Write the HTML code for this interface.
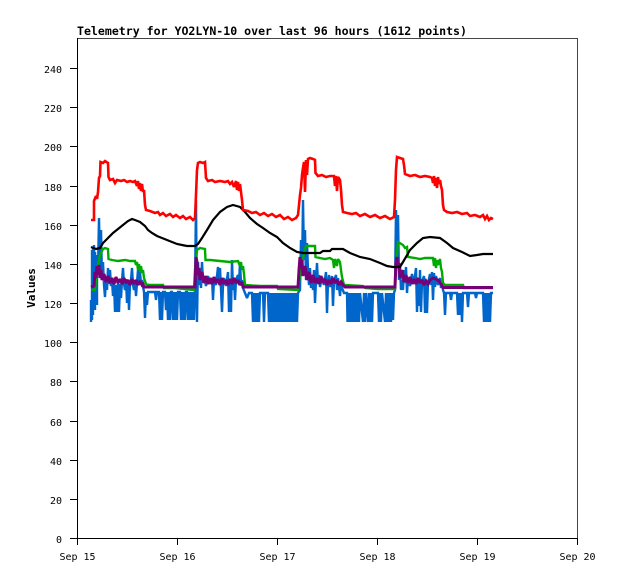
<!DOCTYPE html>
<html><head><meta charset="utf-8"><style>
html,body{margin:0;padding:0;background:#fff;}
svg{display:block;}
text{font-family:"DejaVu Sans Mono","Liberation Mono",monospace;fill:#000;}
</style></head><body>
<svg width="618" height="579" viewBox="0 0 618 579" xmlns="http://www.w3.org/2000/svg">
<rect width="618" height="579" fill="#fff"/>
<text x="77" y="35" font-size="11.5" font-weight="bold" textLength="390" lengthAdjust="spacingAndGlyphs">Telemetry for YO2LYN-10 over last 96 hours (1612 points)</text>
<g shape-rendering="crispEdges" stroke-width="1" fill="none">
<line x1="77" y1="38.5" x2="578" y2="38.5" stroke="#444"/>
<line x1="577.5" y1="38" x2="577.5" y2="539" stroke="#444"/>
<line x1="77.5" y1="38" x2="77.5" y2="539" stroke="#000"/>
<line x1="70" y1="538.5" x2="578" y2="538.5" stroke="#000"/>
<g stroke="#000">
<line x1="70" y1="499.5" x2="77" y2="499.5"/>
<line x1="70" y1="460.5" x2="77" y2="460.5"/>
<line x1="70" y1="421.5" x2="77" y2="421.5"/>
<line x1="70" y1="381.5" x2="77" y2="381.5"/>
<line x1="70" y1="342.5" x2="77" y2="342.5"/>
<line x1="70" y1="303.5" x2="77" y2="303.5"/>
<line x1="70" y1="264.5" x2="77" y2="264.5"/>
<line x1="70" y1="225.5" x2="77" y2="225.5"/>
<line x1="70" y1="186.5" x2="77" y2="186.5"/>
<line x1="70" y1="146.5" x2="77" y2="146.5"/>
<line x1="70" y1="107.5" x2="77" y2="107.5"/>
<line x1="70" y1="68.5" x2="77" y2="68.5"/>
<line x1="77.5" y1="538" x2="77.5" y2="545"/>
<line x1="177.5" y1="538" x2="177.5" y2="545"/>
<line x1="277.5" y1="538" x2="277.5" y2="545"/>
<line x1="377.5" y1="538" x2="377.5" y2="545"/>
<line x1="477.5" y1="538" x2="477.5" y2="545"/>
<line x1="577.5" y1="538" x2="577.5" y2="545"/>
</g>
</g>
<g font-size="10" text-anchor="end">
<text x="62" y="543">0</text>
<text x="62" y="504">20</text>
<text x="62" y="465">40</text>
<text x="62" y="426">60</text>
<text x="62" y="386">80</text>
<text x="62" y="347">100</text>
<text x="62" y="308">120</text>
<text x="62" y="269">140</text>
<text x="62" y="230">160</text>
<text x="62" y="191">180</text>
<text x="62" y="151">200</text>
<text x="62" y="112">220</text>
<text x="62" y="73">240</text>
</g>
<g font-size="10" text-anchor="middle">
<text x="77.5" y="560">Sep 15</text>
<text x="177.5" y="560">Sep 16</text>
<text x="277.5" y="560">Sep 17</text>
<text x="377.5" y="560">Sep 18</text>
<text x="477.5" y="560">Sep 19</text>
<text x="577.5" y="560">Sep 20</text>
</g>
<text transform="translate(35,288) rotate(-90)" x="0" y="0" font-size="11" font-weight="bold" text-anchor="middle">Values</text>

<g fill="none" stroke-linejoin="miter" stroke-miterlimit="2">
<!-- blue -->
<path stroke="#0066cc" stroke-width="2.4" d="M91,322 L91,300 L92,320 L92,250 L93,315 L93,248 L94,300 L94,245 L95,310 L95,252 L96,290 L96,255 L97,305 L97,260 L98,270 L99,218 L100,275 L101,230 L102,280 L103,262 L104,285 L105,297 L106,278 L107,290 L108,268 L109,284 L110,270 L111,286 L112,280 L113,296 L114,282 L115,312 L116,285 L117,312 L118,280 L119,312 L120,284 L121,298 L122,280 L123,268 L124,284 L125,290 L126,279 L127,303 L128,282 L129,310 L130,284 L131,280 L132,268 L133,285 L134,290 L135,280 L136,296 L137,283 L138,270 L139,285 L140,272 L141,284 L142,280 L143,286 L144,292 L145,318 L146,292 L147,305 L148,292 L155,292 L156,300 L157,292 L159,292 L160,320 L161,292 L162,320 L163,292 L165,292 L166,310 L167,292 L168,320 L169,292 L170,320 L171,292 L172,292 L173,320 L174,292 L175,320 L176,292 L177,320 L178,292 L180,292 L181,320 L182,292 L183,320 L184,292 L185,320 L186,292 L187,292 L188,320 L189,292 L190,320 L191,292 L192,320 L193,292 L194,320 L195,292 L196,200 L197,322 L198,262 L199,285 L200,270 L201,288 L202,262 L203,282 L204,276 L206,286 L208,276 L210,284 L212,278 L213,300 L214,280 L216,285 L218,267 L219,283 L220,268 L221,290 L222,312 L223,285 L224,278 L226,286 L228,272 L229,312 L230,282 L231,312 L232,260 L233,290 L234,278 L235,300 L236,280 L238,275 L239,285 L240,262 L241,284 L242,280 L243,288 L245,293 L247,298 L249,293 L252,293 L253,322 L254,293 L255,322 L256,293 L257,322 L258,293 L259,322 L260,293 L263,293 L264,322 L265,293 L268,293 L269,322 L270,293 L271,322 L272,293 L273,322 L274,293 L275,322 L276,293 L277,322 L278,293 L279,322 L280,293 L281,322 L282,293 L283,322 L284,293 L285,322 L286,293 L287,322 L288,293 L289,322 L290,293 L291,322 L292,293 L293,322 L294,293 L295,322 L296,293 L297,322 L298,293 L300,290 L301,240 L302,275 L303,200 L304,260 L305,230 L306,280 L307,243 L308,270 L309,285 L310,268 L311,288 L312,275 L313,290 L314,270 L315,303 L316,280 L317,263 L318,284 L319,275 L320,287 L322,277 L324,285 L326,272 L327,313 L328,282 L329,275 L330,287 L332,276 L333,306 L334,281 L336,275 L337,290 L338,278 L340,296 L341,283 L342,288 L344,293 L347,293 L347.5,322 L348,293 L349,322 L350,293 L351,322 L352,293 L353,322 L354,293 L355,322 L356,293 L357,322 L358,293 L359,322 L360,293 L363,322 L364,293 L365,322 L366,293 L368,322 L369,293 L370,322 L371,293 L372,322 L373,293 L378,293 L379,322 L380,293 L381,322 L382,293 L385,322 L386,293 L387,322 L388,293 L389,322 L390,293 L391,322 L392,293 L393,320 L394,293 L395,290 L396,210 L397,260 L398,215 L399,280 L400,265 L401,290 L402,280 L403,290 L404,270 L405,283 L406,267 L407,293 L408,278 L410,286 L412,274 L414,284 L416,268 L417,312 L418,280 L419,306 L420,270 L421,312 L422,282 L424,276 L425,313 L426,280 L427,313 L428,283 L430,274 L431,285 L432,272 L433,300 L434,273 L435,287 L436,276 L438,285 L440,278 L441,288 L442,283 L443,290 L444,293 L445,315 L446,293 L450,293 L451,300 L452,293 L457,293 L458,315 L459,293 L460,315 L461,293 L462,322 L463,293 L467,293 L468,307 L469,293 L475,293 L476,298 L477,293 L483,293 L484,322 L485,293 L486,322 L487,293 L488,322 L489,293 L490,322 L491,293 L493,293"/>
<!-- green -->
<path stroke="#00aa00" stroke-width="2.4" d="M91,290 L95,290 L97,270 L100,255 L103,249 L105,248 L108,249 L108.5,259 L112,260 L118,261 L125,260 L130,261 L135,261 L136,265 L137,262 L138,270 L139,264 L140,272 L141,266 L142,273 L143,270 L144,278 L146,284 L150,285 L163,285 L164,288 L175,288 L185,289 L194,290 L195,270 L197,250 L200,248 L205,249 L205.5,260 L210,260 L220,261 L230,262 L238,261 L240,266 L241,262 L242,270 L243,266 L244,274 L245,285 L260,286 L277,286 L278,289 L298,290 L300,275 L303,258 L306,246 L315,246 L315.5,257 L320,258 L325,259 L330,258 L333,260 L334,268 L335,259 L337,266 L338,259 L340,262 L341,270 L342,277 L344,285 L363,286 L365,288 L378,289 L395,289 L396,265 L398,242 L403,245 L405,248 L407,247 L408,257 L415,258 L420,259 L425,258 L433,258 L434,266 L435,258 L436,268 L437,260 L438,265 L440,259 L441,268 L442,272 L443,283 L445,285 L463,285 L464,288 L493,288"/>
<!-- purple -->
<path stroke="#770077" stroke-width="3" d="M91,287 L94,286 L95,272 L96,278 L97,266 L98,275 L99,265 L100,278 L101,270 L102,280 L104,274 L106,282 L108,276 L110,283 L112,278 L114,284 L116,277 L118,283 L120,279 L122,284 L124,278 L126,283 L128,280 L130,285 L132,279 L134,284 L136,280 L138,285 L140,281 L142,285 L143,284 L144,287 L195,287 L196,257 L197,262 L198,275 L199,268 L200,280 L202,272 L204,283 L206,276 L208,284 L210,278 L212,284 L214,277 L216,283 L218,279 L220,285 L222,278 L224,284 L226,280 L228,285 L230,279 L232,284 L234,278 L236,283 L238,280 L240,285 L242,282 L243,287 L298,287 L299,270 L300,257 L301,268 L302,260 L303,276 L305,266 L307,280 L309,272 L311,283 L313,275 L315,283 L317,278 L319,284 L321,276 L323,283 L325,279 L327,285 L329,280 L331,284 L333,278 L335,283 L337,280 L339,285 L341,282 L343,285 L345,287 L395,287 L396,262 L397,257 L398,268 L399,263 L400,278 L402,270 L404,282 L406,275 L408,283 L410,277 L412,284 L414,279 L416,284 L418,278 L420,283 L422,280 L424,285 L426,281 L428,284 L430,280 L433,278 L436,279 L439,281 L441,284 L443,287.5 L493,287.5"/>
<!-- black -->
<path stroke="#000" stroke-width="2.2" d="M91,247 L96,249 L100,248 L103,243 L108,238 L113,233 L118,229 L123,225 L128,221 L132,219 L135,220 L140,222 L145,226 L148,230 L152,233 L157,236 L162,238 L167,240 L172,242 L177,244 L182,245 L187,246 L195,246 L198,244 L202,238 L207,230 L213,220 L220,212 L227,207 L233,205 L240,207 L245,212 L250,218 L257,224 L263,228 L270,233 L277,237 L283,243 L290,248 L297,252 L303,253 L320,253 L323,251 L330,251 L332,249 L343,249 L350,253 L360,257 L370,259 L380,263 L387,266 L393,267 L400,267 L403,262 L410,250 L417,243 L423,238 L430,237 L440,238 L447,243 L453,248 L462,252 L470,256 L477,255 L483,254 L493,254"/>
<!-- red -->
<path stroke="#ff0000" stroke-width="2.6" d="M91,220 L94,220 L94,201 L96,196 L97,199 L98,192 L99,178 L100,176 L100.5,162 L103,163 L105,161 L108,163 L108.5,177 L110,180 L113,179 L115,183 L117,180 L121,181 L124,180 L127,182 L130,181 L133,182 L135,181 L137,186 L138,181 L139,189 L140,183 L141,191 L142,184 L143,192 L144,190 L145,205 L146,210 L150,211 L155,213 L158,212 L160,215 L163,213 L166,216 L170,214 L173,217 L176,215 L180,218 L183,216 L186,219 L190,217 L193,220 L195,218 L196,195 L197,170 L198,163 L200,162 L203,163 L205,162 L206,178 L208,181 L212,180 L215,182 L220,181 L225,182 L228,181 L230,184 L232,182 L234,187 L236,181 L237,190 L238,182 L239,191 L240,184 L241,192 L242,200 L243,210 L248,211 L252,213 L256,212 L260,215 L264,213 L268,216 L272,214 L276,217 L280,215 L284,219 L288,217 L292,220 L296,218 L298,215 L299,205 L300,195 L301,188 L302,175 L303,168 L304,162 L305,192 L306,160 L307,175 L308,159 L310,158 L313,159 L315,160 L315.5,173 L318,176 L322,175 L326,177 L330,176 L334,176 L335,186 L336,176 L337,191 L338,177 L340,180 L341,190 L342,205 L343,212 L347,213 L352,214 L356,213 L360,216 L365,214 L370,217 L375,215 L380,218 L385,216 L390,219 L394,217 L395,200 L396,170 L397,157 L400,158 L403,159 L404,165 L405,174 L410,176 L415,175 L420,177 L425,176 L430,177 L432,178 L433,183 L434,176 L435,186 L436,178 L437,188 L438,177 L439,184 L440,180 L441,186 L442,190 L443,205 L444,210 L447,212 L452,213 L457,212 L462,214 L467,213 L470,216 L475,215 L480,217 L483,215 L485,219 L487,216 L489,220 L491,218 L493,219"/>
</g>
</svg>
</body></html>
